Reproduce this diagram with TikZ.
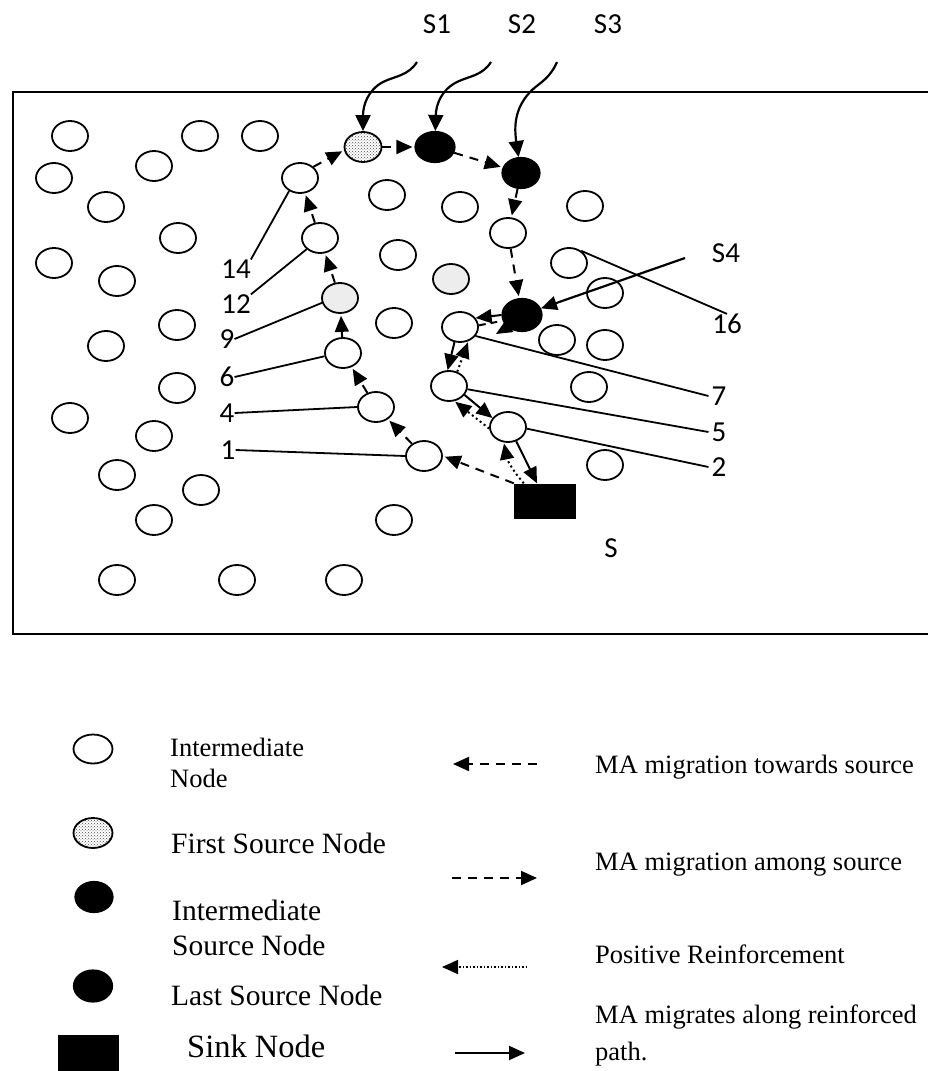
\documentclass[tikz,border=0pt]{standalone}
\usepackage{fontspec}
\setmainfont{Liberation Serif}
\newfontfamily\lblfont{Carlito}
\usetikzlibrary{shapes.geometric,arrows.meta,patterns}
\begin{document}
\begin{tikzpicture}[x=1pt,y=-1pt,
  inode/.style={ellipse,draw,line width=1.8pt,minimum width=36pt,minimum height=30pt,inner sep=0pt,fill=white},
  lnode/.style={inode,fill=gray!14},
  fsrc/.style={ellipse,draw,line width=1.8pt,minimum width=37pt,minimum height=30pt,inner sep=0pt,pattern=crosshatch dots,pattern color=black!70},
  bsrc/.style={ellipse,draw,line width=1.2pt,minimum width=38pt,minimum height=31pt,inner sep=0pt,fill=black},
  sinkbox/.style={rectangle,fill=black,minimum width=62pt,minimum height=35pt,inner sep=0pt},
  tip/.style={-{Triangle[length=16pt,width=14pt]}},
  towards/.style={tip,line width=2pt,dash pattern=on 9pt off 7pt,shorten >=2pt},
  reinf/.style={tip,line width=2pt,dash pattern=on 2pt off 3pt,shorten >=1pt},
  mig/.style={tip,line width=2pt},
  wave/.style={-{Triangle[length=16pt,width=15pt]},line width=2.2pt},
  lbl/.style={font=\lblfont\fontsize{29}{32}\selectfont,inner sep=0pt},
  pointer/.style={line width=1.8pt},
  leg/.style={font=\fontsize{26.5}{31}\selectfont,inner sep=0pt,anchor=base west},
  legb/.style={font=\fontsize{29.5}{35}\selectfont,inner sep=0pt,anchor=base west}
]
\useasboundingbox (0,0) rectangle (928,1071);
% frame
\draw[line width=2.5pt] (929,92) -- (13,92) -- (13,634) -- (929,634);

% intermediate nodes (background)
\foreach \p [count=\i] in {(70,136),(200,136),(260,136),(54,178),(154,166),(106,207),(178,238),(54,263),(117,281),(177,325),(106,346),(177,388),(70,418),(154,436),(117,475),(201,490),(154,520),(117,580),(237,580),(344,580),(394,520),(387,195),(460,207),(585,206),(398,255),(394,323),(605,293),(557,340),(605,345),(589,387),(605,465)}
  \node[inode] (b\i) at \p {};
\node[lnode] (g1) at (451,279) {};
\node[inode] (c16) at (569,263) {};

% path nodes
\node[inode] (n14) at (300,178) {};
\node[inode] (n12) at (320,238) {};
\node[lnode] (n9)  at (340,298) {};
\node[inode] (n6)  at (343,353) {};
\node[inode] (n4)  at (376,407) {};
\node[inode] (n1)  at (424,456) {};
\node[inode] (n7)  at (460,327) {};
\node[inode] (n5)  at (449,386) {};
\node[inode] (n2)  at (508,427) {};
\node[inode] (m1)  at (508,233) {};
\node[fsrc] (s1) at (363,147) {};
\node[bsrc,minimum width=40pt] (s2) at (435,147) {};
\node[bsrc] (s3) at (521,173) {};
\node[bsrc,minimum width=40pt,minimum height=33pt] (s4) at (522,315) {};
\node[sinkbox] (sink) at (545,501) {};

% labels
\node[lbl] (ls1) at (437,24) {S1};
\node[lbl] (ls2) at (522,24) {S2};
\node[lbl] (ls3) at (608,24) {S3};
\node[lbl] (ls4) at (726,253) {S4};
\node[lbl] (l16) at (727,324) {16};
\node[lbl] (l7) at (719,396) {7};
\node[lbl] (l5) at (719,432) {5};
\node[lbl] (l2) at (719,467) {2};
\node[lbl] (l14) at (236,269) {14};
\node[lbl] (l12) at (236,304) {12};
\node[lbl] (l9) at (227,339) {9};
\node[lbl] (l6) at (227,377) {6};
\node[lbl] (l4) at (227,413) {4};
\node[lbl] (l1) at (228,450) {1};
\node[lbl] (ls) at (611,548) {S};

% pointer lines
\draw[pointer] (n14.-130) -- (l14.north east);
\draw[pointer] (n12.-140) -- (l12.north east);
\draw[pointer] (n9.-165) -- (l9.east);
\draw[pointer] (n6.-170) -- (l6.east);
\draw[pointer] (n4.west) -- (l4.east);
\draw[pointer] (n1.west) -- (l1.east);
\draw[pointer] (n7.-30) -- ([xshift=-3pt]l7.west);
\draw[pointer] (n5.-10) -- ([xshift=-3pt]l5.west);
\draw[pointer] (n2.-5) -- ([xshift=-3pt]l2.west);
\draw[pointer] (c16.45) -- (l16.north);
\coordinate (s4start) at (685,258);
\draw[mig,line width=2.2pt] (s4start) -- (s4);

% wavy source arrows
\coordinate (w1) at (417,62);
\coordinate (w2) at (491,62);
\coordinate (w3) at (557,62);
\draw[wave] (w1) .. controls (408,76) and (395,76) .. (383,82) .. controls (368,90) and (363,105) .. (s1);
\draw[wave] (w2) .. controls (482,76) and (469,76) .. (457,82) .. controls (441,90) and (436,105) .. (s2);
\draw[wave] (w3) .. controls (550,78) and (541,82) .. (532,90) .. controls (518,104) and (513,120) .. (s3);

% MA migration towards source
\draw[towards] (sink.north west) -- (n1.east);
\draw[towards] (n1) -- (n4);
\draw[towards] (n4) -- (n6);
\draw[towards] (n6) -- (n9);
\draw[towards] (n9) -- (n12);
\draw[towards] (n12) -- (n14);
\draw[towards] (n14.40) -- (s1.190);
% among sources
\draw[towards] (s1) -- (s2);
\draw[towards] (s2) -- (s3);
\draw[towards] (s3) -- (m1);
\draw[towards] (m1) -- (s4);

% reinforced path
\draw[mig] (s4.west) -- (n7.30);
\draw[mig] (n7.-110) -- (n5.95);
\draw[mig] (n5.-30) -- (n2.150);
\draw[mig] (n2.-60) -- ([xshift=-8pt]sink.north);
\coordinate (s4tip) at (496,334);
\draw[line width=2pt,dash pattern=on 7pt off 5pt] (n7.5) -- ([xshift=-6pt]s4.-160);
\draw[mig,shorten >=0pt] (s4.-140) -- (s4tip);

% positive reinforcement
\draw[reinf] ([xshift=10pt]sink.north west) to[bend left=15] (n2.-105);
\draw[reinf] (n2.185) -- (n5.-70);
\draw[reinf] (n5.60) -- (n7.-60);

% legend
\node[inode,minimum width=39pt,minimum height=29pt] (k1) at (93,749) {};
\node[fsrc,minimum width=39pt] (k2) at (93,833) {};
\node[bsrc,minimum width=38pt] (k3) at (94,897) {};
\node[bsrc,minimum width=39pt,minimum height=32pt] (k4) at (93,986) {};
\fill (58,1035) rectangle (119,1075);
\node[leg] (t1a) at (170,756) {Intermediate};
\node[leg] (t1b) at (170,787) {Node};
\node[legb] (t2) at (171,853) {First Source Node};
\node[legb] (t3a) at (172,920) {Intermediate};
\node[legb] (t3b) at (172,955) {Source Node};
\node[legb] (t4) at (171,1005) {Last Source Node};
\node[font=\fontsize{32.5}{36}\selectfont,inner sep=0pt,anchor=base west] (t5) at (187,1057) {Sink Node};

\coordinate (a1s) at (537,764); \coordinate (a1e) at (453,764);
\coordinate (a2s) at (452,878); \coordinate (a2e) at (537,878);
\coordinate (a3s) at (527,967); \coordinate (a3e) at (442,967);
\coordinate (a4s) at (455,1053); \coordinate (a4e) at (525,1053);
\draw[towards,shorten >=0pt] (a1s) -- (a1e);
\draw[towards,shorten >=0pt] (a2s) -- (a2e);
\draw[reinf,line width=1.6pt,dash pattern=on 1.5pt off 2pt,shorten >=0pt] (a3s) -- (a3e);
\draw[mig] (a4s) -- (a4e);
\node[leg] (r1) at (595,773) {MA migration towards source};
\node[leg] (r2) at (595,870) {MA migration among source};
\node[leg] (r3) at (595,963) {Positive Reinforcement};
\node[leg] (r4a) at (595,1023) {MA migrates along reinforced};
\node[leg] (r4b) at (595,1060) {path.};
\end{tikzpicture}
\end{document}
